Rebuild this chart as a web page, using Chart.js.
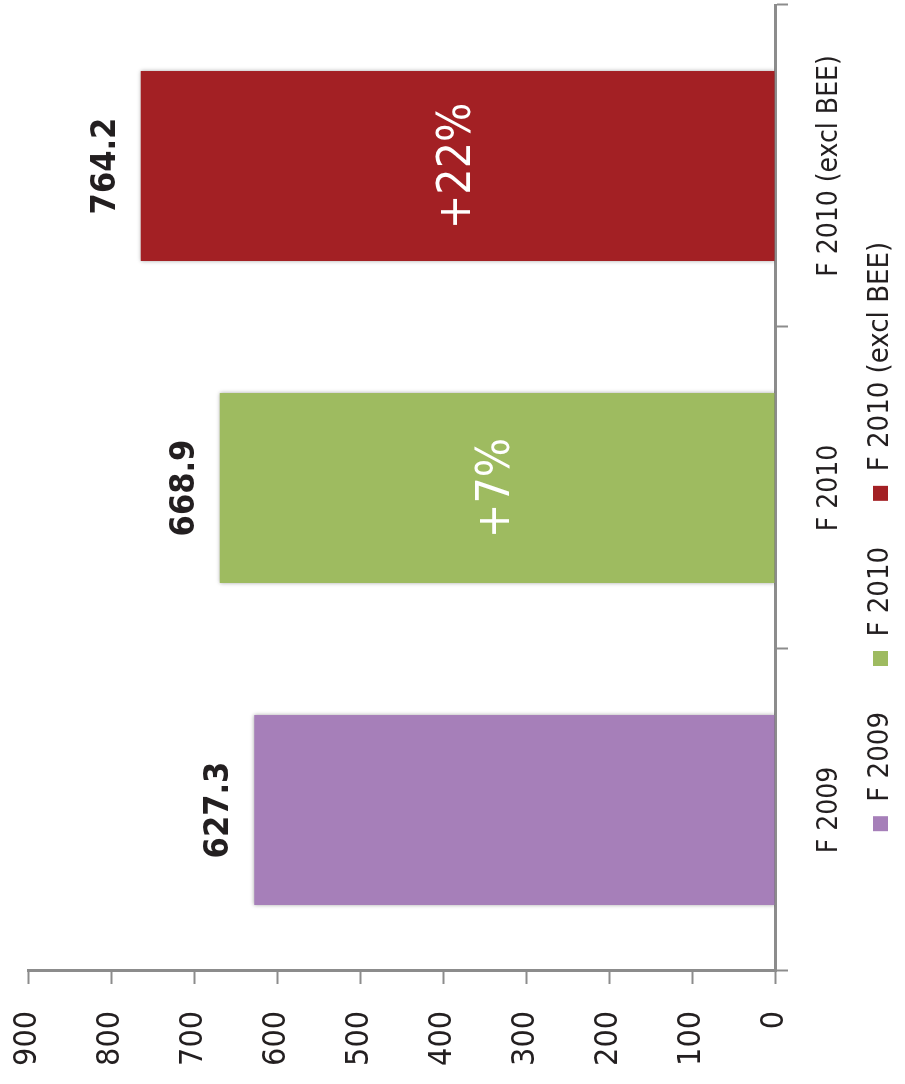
<!DOCTYPE html>
<html>
<head>
<meta charset="utf-8">
<script src="https://cdn.jsdelivr.net/npm/chart.js@4.4.1/dist/chart.umd.min.js"></script>
<style>
  html, body { margin: 0; padding: 0; background: #fff; overflow: hidden; width: 905px; height: 1084px; }
  /* the chart is laid out upright, then turned a quarter turn counter-clockwise */
  #wrap { position: absolute; left: 0; top: 0; width: 1084px; height: 905px;
          transform-origin: 0 0; transform: translateY(1084px) rotate(-90deg); }
</style>
</head>
<body>
<div id="wrap"><canvas id="c" width="1084" height="905"></canvas></div>
<script>
// data
const categories = ['F 2009', 'F 2010', 'F 2010 (excl BEE)'];
const values = [627.3, 668.9, 764.2];
const growth = ['', '+7%', '+22%'];
const axisMin = 0;
const axisMax = 900;
const axisStep = 100;

// styles
const barColors = ['#a67fb9', '#9ebb60', '#a32024'];
const FONT = '"DejaVu Sans Condensed", "Liberation Sans", sans-serif';
const TEXT = '#231f20';
const AXIS = '#8c8c8c';

// soft shadow around the bars
const barShadow = {
  id: 'barShadow',
  beforeDatasetsDraw(chart) {
    const ctx = chart.ctx;
    ctx.save();
    ctx.shadowColor = 'rgba(0,0,0,0.35)';
    ctx.shadowBlur = 4;
  },
  afterDatasetsDraw(chart) {
    chart.ctx.restore();
  }
};

// category labels sit partly over the legend band, so let them draw unclipped
const freeLabels = {
  id: 'freeLabels',
  beforeDraw(chart) {
    chart.scales.x._computeLabelArea = () => undefined;
  }
};

// value above each bar, growth figure inside
const barLabels = {
  id: 'barLabels',
  afterDatasetsDraw(chart) {
    const ctx = chart.ctx;
    chart.getDatasetMeta(0).data.forEach((bar, i) => {
      ctx.save();
      ctx.textAlign = 'center';
      ctx.fillStyle = TEXT;
      ctx.font = `bold 34px ${FONT}`;
      ctx.textBaseline = 'alphabetic';
      ctx.fillText(values[i].toFixed(1), bar.x, bar.y - 26);
      if (growth[i]) {
        ctx.fillStyle = '#ffffff';
        ctx.font = `46px ${FONT}`;
        ctx.textBaseline = 'middle';
        ctx.fillText(growth[i], bar.x, (bar.y + bar.base) / 2);
      }
      ctx.restore();
    });
  }
};

new Chart(document.getElementById('c'), {
  type: 'bar',
  data: {
    labels: categories,
    datasets: [{
      data: values,
      backgroundColor: barColors,
      borderWidth: 0,
      barPercentage: 0.59,
      categoryPercentage: 1
    }]
  },
  options: {
    responsive: false,
    animation: false,
    devicePixelRatio: 1,
    layout: { padding: { top: 28, right: 5, bottom: 0, left: 16 } },
    plugins: {
      tooltip: { enabled: false },
      legend: {
        position: 'bottom',
        labels: {
          boxWidth: 15,
          boxHeight: 15,
          padding: 46,
          color: TEXT,
          font: { family: FONT, size: 29 },
          generateLabels: () => categories.map((c, i) => ({
            text: c,
            fillStyle: barColors[i],
            strokeStyle: barColors[i],
            lineWidth: 0,
            fontColor: TEXT,
            hidden: false,
            index: i
          }))
        }
      }
    },
    scales: {
      x: {
        grid: { offset: true, drawOnChartArea: false, drawTicks: true, tickLength: 13, tickColor: AXIS, tickWidth: 2 },
        border: { display: true, color: AXIS, width: 3 },
        ticks: { color: TEXT, font: { family: FONT, size: 28 }, padding: 25, maxRotation: 0, autoSkip: false },
        afterFit: (s) => { s.height = 45; }
      },
      y: {
        min: axisMin,
        max: axisMax,
        grid: { drawOnChartArea: false, tickLength: 13, tickColor: AXIS, tickWidth: 2 },
        border: { display: true, color: AXIS, width: 3 },
        ticks: { stepSize: axisStep, color: TEXT, font: { family: FONT, size: 32 }, padding: 27 },
        afterFit: (s) => { s.width = 97; s.paddingTop = 0; s.paddingBottom = 0; }
      }
    }
  },
  plugins: [barShadow, freeLabels, barLabels]
});
</script>
</body>
</html>
